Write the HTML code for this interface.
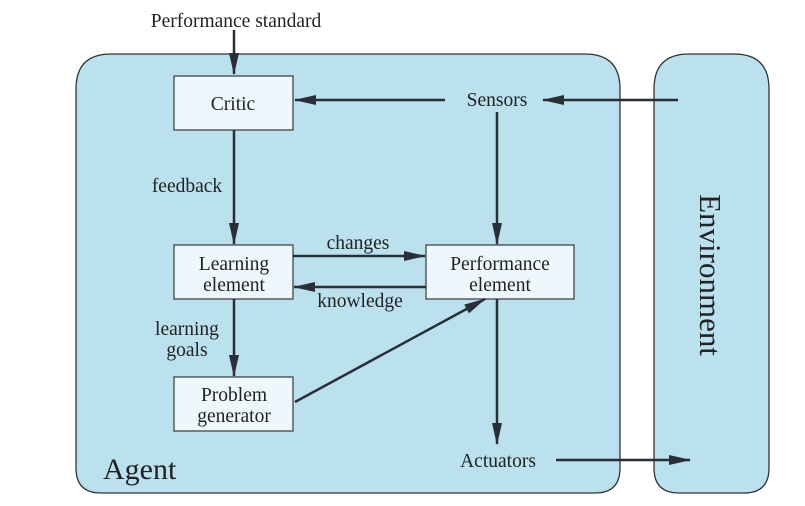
<!DOCTYPE html>
<html><head><style>body{margin:0;background:#fff}svg{display:block}</style></head><body>
<svg width="805" height="506" viewBox="0 0 805 506" xmlns="http://www.w3.org/2000/svg" font-family="Liberation Serif, serif" fill="#222">
<defs>
<marker id="b" markerWidth="22" markerHeight="10" refX="21" refY="5" orient="auto" markerUnits="userSpaceOnUse"><path d="M0,0 L22,5 L0,10 Z" fill="#2a2e36"/></marker></defs>
<path d="M111,54 H585 Q620,54 620,89 V468 Q620,493 595,493 H101 Q76,493 76,468 V89 Q76,54 111,54 Z" fill="#bbe1ee" stroke="#333" stroke-width="1.3"/>
<path d="M689,54 H734 Q769,54 769,89 V468 Q769,493 744,493 H679 Q654,493 654,468 V89 Q654,54 689,54 Z" fill="#bbe1ee" stroke="#333" stroke-width="1.3"/>
<g fill="#eef8fc" stroke="#444" stroke-width="1.3">
<rect x="174" y="76" width="119" height="54"/><rect x="174" y="245" width="119" height="54"/>
<rect x="426" y="245" width="148" height="54"/><rect x="174" y="377" width="119" height="54"/></g>
<g stroke="#2a2e36" stroke-width="2.5" marker-end="url(#b)">
<line x1="234" y1="30" x2="234" y2="74"/>
<line x1="445" y1="100" x2="295" y2="100"/>
<line x1="678" y1="100" x2="543" y2="100"/>
<line x1="234" y1="130" x2="234" y2="244"/>
<line x1="497" y1="112" x2="497" y2="244"/>
<line x1="293" y1="256" x2="425" y2="256"/>
<line x1="426" y1="287" x2="294" y2="287"/>
<line x1="234" y1="299" x2="234" y2="376"/>
<line x1="295" y1="402" x2="485" y2="299"/>
<line x1="497" y1="299" x2="497" y2="444"/>
<line x1="556" y1="460" x2="690" y2="460"/>
</g>
<g font-size="19.5" text-anchor="middle">
<text x="236" y="27">Performance standard</text>
<text x="233" y="110">Critic</text>
<text x="497" y="106">Sensors</text>
<text x="187" y="192">feedback</text>
<text x="234" y="270">Learning</text><text x="234" y="291">element</text>
<text x="500" y="270">Performance</text><text x="500" y="291">element</text>
<text x="358" y="249">changes</text>
<text x="360" y="307">knowledge</text>
<text x="187" y="335">learning</text><text x="187" y="356">goals</text>
<text x="234" y="401">Problem</text><text x="234" y="422">generator</text>
<text x="498" y="467">Actuators</text>
</g>
<text x="103" y="479" font-size="30">Agent</text>
<text transform="translate(700,275) rotate(90)" font-size="31" text-anchor="middle">Environment</text>
</svg>
</body></html>
